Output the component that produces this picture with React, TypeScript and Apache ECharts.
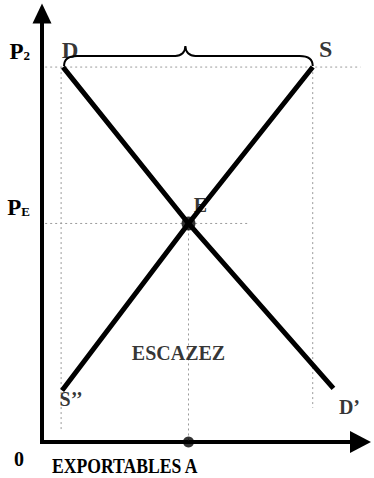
import React, { useEffect, useRef } from 'react';
import * as echarts from 'echarts';

// ---- data (quantity on x, price on y, axis range 0..10) ----
const X_MAX = 10;
const Y_MAX = 10;
const P2 = 8.75;
const PE = 5.1;
const QE = 4.6;

const demandLine: number[][] = [[0.66, 8.75], [4.6, 5.1], [9.15, 1.25]];
const supplyLine: number[][] = [[0.63, 1.2], [4.6, 5.1], [8.5, 8.75]];

const guideP2: number[][] = [[0.1, 8.75], [10, 8.75]];
const guidePE: number[][] = [[0.1, 5.1], [6.5, 5.1]];
const guideLeft: number[][] = [[0.6, 8.75], [0.6, 0.3]];
const guideRight: number[][] = [[8.5, 8.75], [8.5, 0.8]];
const guideQE: number[][] = [[4.6, 5.1], [4.6, 0]];

const equilibriumPoint: number[][] = [[4.6, 5.1]];
const axisPoint: number[][] = [[4.6, 0]];

const braceSpan: number[] = [0.66, 8.5, 8.75]; // from x, to x, at price

const yTickValues: number[] = [PE, P2];
const yTickLabels: string[] = ['{p|P}{s|E}', '{p|P}{s|2}'];

const pointLabels: string[] = ['D', 'S', 'S\u2019\u2019', 'D\u2019', 'E', 'ESCAZEZ'];

const FONT = '"Liberation Serif", "Times New Roman", serif';

export default function App() {
  const ref = useRef<HTMLDivElement>(null);

  useEffect(() => {
    const chart = echarts.init(ref.current!, null, { renderer: 'svg' });

    const guideSeries = (data: number[][]) => ({
      type: 'line',
      data,
      symbol: 'none',
      silent: true,
      z: 1,
      lineStyle: { color: '#9a9a9a', width: 1, type: [2, 3] },
    });

    const anchors: number[][] = [
      demandLine[0],
      supplyLine[2],
      supplyLine[0],
      demandLine[2],
      equilibriumPoint[0],
      [QE, supplyLine[0][1]],
    ];
    const labelStyles: any[] = [
      { offset: [7, -17], fontSize: 23 },
      { offset: [13, -18], fontSize: 24 },
      { offset: [9, 8], fontSize: 20 },
      { offset: [16, 19], fontSize: 20 },
      { offset: [12, -18], fontSize: 20 },
      { offset: [-10, -38], fontSize: 20 },
    ];

    const option: any = {
      animation: false,
      backgroundColor: '#ffffff',
      grid: { left: 42, right: 13.5, top: 13.5, bottom: 36 },
      xAxis: {
        type: 'value',
        min: 0,
        max: X_MAX,
        axisLine: {
          show: true,
          onZero: false,
          symbol: ['none', 'triangle'],
          symbolSize: [22, 21],
          lineStyle: { color: '#000', width: 4, cap: 'square' },
        },
        axisTick: { show: false },
        axisLabel: { show: false },
        splitLine: { show: false },
      },
      yAxis: {
        type: 'value',
        min: 0,
        max: Y_MAX,
        axisLine: {
          show: true,
          onZero: false,
          symbol: ['none', 'triangle'],
          symbolSize: [19, 20],
          lineStyle: { color: '#000', width: 4, cap: 'square' },
        },
        axisTick: { show: false },
        splitLine: { show: false },
        axisLabel: {
          show: true,
          customValues: yTickValues,
          formatter: (v: number) => {
            const i = yTickValues.findIndex((t) => Math.abs(t - v) < 1e-6);
            return i >= 0 ? yTickLabels[i] : '';
          },
          margin: 12,
          verticalAlign: 'bottom',
          padding: [0, 0, 4, 0],
          rich: {
            p: { fontFamily: FONT, fontWeight: 'bold', fontSize: 23, color: '#000', lineHeight: 24 },
            s: { fontFamily: FONT, fontWeight: 'bold', fontSize: 13, color: '#000', lineHeight: 24, padding: [8, 0, 0, 0] },
          },
        },
      },
      series: [
        guideSeries(guideP2),
        guideSeries(guidePE),
        guideSeries(guideLeft),
        guideSeries(guideRight),
        guideSeries(guideQE),
        {
          type: 'line',
          name: 'D',
          data: demandLine,
          symbol: 'none',
          z: 3,
          lineStyle: { color: '#000', width: 5 },
        },
        {
          type: 'line',
          name: 'S',
          data: supplyLine,
          symbol: 'none',
          z: 3,
          lineStyle: { color: '#000', width: 5 },
        },
        {
          type: 'scatter',
          data: equilibriumPoint,
          symbolSize: 14,
          itemStyle: { color: '#000' },
          z: 4,
        },
        {
          type: 'scatter',
          data: axisPoint,
          symbolSize: 11,
          clip: false,
          itemStyle: { color: '#000' },
          z: 4,
        },
        {
          type: 'custom',
          clip: false,
          z: 4,
          data: [braceSpan],
          renderItem: (params: any, api: any) => {
            const a = api.coord([api.value(0), api.value(2)]);
            const b = api.coord([api.value(1), api.value(2)]);
            const x1 = a[0] + 1;
            const x2 = b[0];
            const yb = a[1] - 1;
            const xm = (x1 + x2) / 2 - 3;
            const h = 10;
            const d =
              `M${x1},${yb} C${x1},${yb - 7} ${x1 + 4},${yb - h} ${x1 + 13},${yb - h} ` +
              `L${xm - 10},${yb - h} C${xm - 4},${yb - h} ${xm},${yb - h - 4} ${xm},${yb - 2 * h} ` +
              `C${xm},${yb - h - 4} ${xm + 4},${yb - h} ${xm + 10},${yb - h} ` +
              `L${x2 - 13},${yb - h} C${x2 - 4},${yb - h} ${x2},${yb - 7} ${x2},${yb}`;
            return {
              type: 'path',
              shape: { pathData: d },
              style: { stroke: '#000', fill: 'none', lineWidth: 2 },
            };
          },
        },
        {
          type: 'scatter',
          symbolSize: 0,
          silent: true,
          clip: false,
          z: 10,
          data: pointLabels.map((t, i) => ({
            name: t,
            value: anchors[i],
            label: labelStyles[i],
          })),
          label: {
            show: true,
            position: 'inside',
            formatter: (p: any) => p.name,
            fontFamily: FONT,
            fontWeight: 'bold',
            color: '#000',
          },
        },
      ],
      graphic: [
        {
          type: 'text',
          x: 14,
          y: 449,
          style: { text: '0', font: `bold 20px ${FONT}`, fill: '#000' },
        },
        {
          type: 'text',
          x: 52,
          y: 455,
          scaleX: 0.84,
          style: { text: 'EXPORTABLES A', font: `bold 21px ${FONT}`, fill: '#000' },
        },
      ],
    };

    chart.setOption(option);
    return () => chart.dispose();
  }, []);

  return (
    <div
      ref={ref}
      style={{ position: 'absolute', left: 0, top: 0, width: 374, height: 478, background: '#fff' }}
    />
  );
}
